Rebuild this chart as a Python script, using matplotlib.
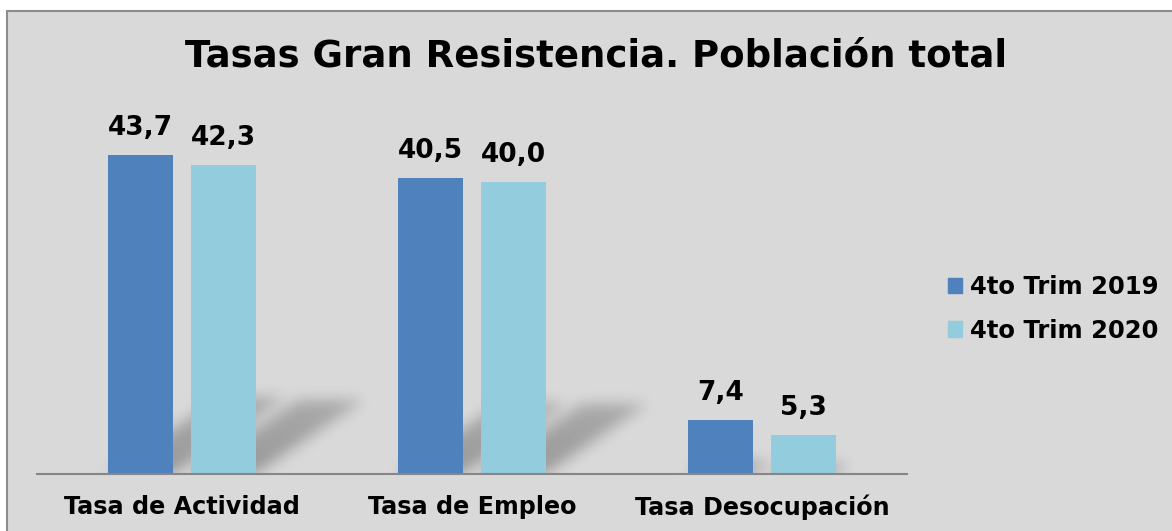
import numpy as np
import matplotlib
matplotlib.use("Agg")
import matplotlib.pyplot as plt
from matplotlib.patches import Rectangle, Patch

# ---- data ----
categories = ["Tasa de Actividad", "Tasa de Empleo", "Tasa Desocupación"]
series_names = ["4to Trim 2019", "4to Trim 2020"]
values_2019 = [43.7, 40.5, 7.4]
values_2020 = [42.3, 40.0, 5.3]
title = "Tasas Gran Resistencia. Población total"

colors = ["#4f81bd", "#93cddd"]
bg = "#d9d9d9"

W, H = 1172, 531
fig = plt.figure(figsize=(W / 100, H / 100), dpi=100, facecolor="white")
plt.rcParams["font.family"] = ["DejaVu Sans"]

# outer chart frame
fig.patches.append(Rectangle((6.5 / W, -0.01), 1.1, 1 - 11.5 / H + 0.01,
                             transform=fig.transFigure, facecolor=bg,
                             edgecolor="#8c8c8c", lw=1.5, zorder=-5))

ax_l, ax_r, ax_b, ax_t = 37, 907, 474, 109
ax = fig.add_axes([ax_l / W, 1 - ax_b / H, (ax_r - ax_l) / W, (ax_b - ax_t) / H])
ax.set_facecolor("none")
ax.set_zorder(2)
ymax = 50
ax.set_xlim(-0.5, 2.5)
ax.set_ylim(0, ymax)

x = np.arange(len(categories))
bw = 0.224
off = 0.143

# ---- soft perspective shadows (derived from bar data) ----
nx, ny = (ax_r - ax_l), (ax_b - ax_t)
gx = np.linspace(-0.5, 2.5, nx)
gy = np.linspace(0, ymax, ny)
GX, GY = np.meshgrid(gx, gy)
alpha = np.zeros_like(GX)
px_per_x = nx / 3.0
px_per_y = ny / ymax
k = 1.45 * px_per_y / px_per_x  # horizontal shift (data x) per data y
frac = 0.24
for vals, o in ((values_2019, -off), (values_2020, off)):
    for xi, v in zip(x, vals):
        hs = frac * v
        x0, x1 = xi + o - bw / 2, xi + o + bw / 2
        t = np.clip(GY / hs, 0, 1)
        XS = GX - k * GY
        m = (GY <= hs) & (XS >= x0) & (XS <= x1)
        a = np.where(m, 0.30 - 0.08 * t, 0)
        alpha = np.maximum(alpha, a)
# gaussian blur
sig = 7.0
r = np.arange(-21, 22)
ker = np.exp(-r ** 2 / (2 * sig ** 2))
ker /= ker.sum()
alpha = np.apply_along_axis(lambda c: np.convolve(c, ker, mode="same"), 0, alpha)
alpha = np.apply_along_axis(lambda c: np.convolve(c, ker, mode="same"), 1, alpha)
img = np.zeros((ny, nx, 4))
img[..., 3] = alpha
ax.imshow(img, extent=(-0.5, 2.5, 0, ymax), origin="lower", aspect="auto",
          zorder=1, interpolation="bilinear")

b1 = ax.bar(x - off, values_2019, bw, color=colors[0], zorder=3, label=series_names[0])
b2 = ax.bar(x + off, values_2020, bw, color=colors[1], zorder=3, label=series_names[1])

fmt = lambda v: f"{v:.1f}".replace(".", ",")
for b in (b1, b2):
    ax.bar_label(b, labels=[fmt(v) for v in b.datavalues], padding=10,
                 fontsize=19, fontweight="bold", color="black")

ax.set_xticks(x)
ax.set_xticklabels(categories, fontsize=17.2, fontweight="bold")
ax.tick_params(axis="x", length=0, pad=15)
ax.set_yticks([])
for s in ("left", "right", "top"):
    ax.spines[s].set_visible(False)
ax.spines["bottom"].set_color("#868686")
ax.spines["bottom"].set_linewidth(1.5)
ax.spines["bottom"].set_zorder(4)

fig.text(596 / W, 1 - 56 / H, title, ha="center", va="center",
         fontsize=26.7, fontweight="bold")

handles = [Patch(color=c) for c in colors]
fig.legend(handles, series_names, loc="center left",
           bbox_to_anchor=(926 / W, 1 - 309 / H), frameon=False,
           prop={"size": 17.5, "weight": "bold"}, handlelength=0.6,
           handleheight=0.6, handletextpad=0.3, labelspacing=0.8)

fig.savefig("out.png", dpi=100, facecolor="white")
